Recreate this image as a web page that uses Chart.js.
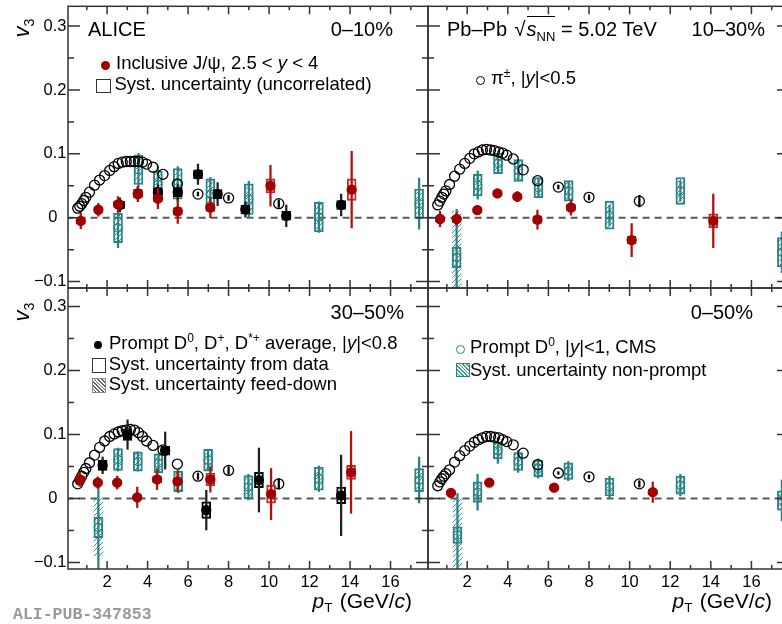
<!DOCTYPE html>
<html>
<head>
<meta charset="utf-8">
<script src="https://cdn.jsdelivr.net/npm/chart.js@4.4.0/dist/chart.umd.min.js"></script>
<style>
  html, body { margin: 0; padding: 0; background: #fff; overflow: hidden; width: 782px; height: 624px; }
  body { position: relative; font-family: "Liberation Sans", Arial, sans-serif; color: #000; }
  canvas { position: absolute; }
  .t { position: absolute; line-height: 1; white-space: nowrap; }
  .r { text-align: right; }
  .lg { font-size: 18.5px; }
  .big { font-size: 20px; }
  .t sup { font-size: 65%; vertical-align: 0; position: relative; top: -0.6em; }
  .t sub { font-size: 65%; vertical-align: 0; position: relative; top: 0.35em; }
  .sym { position: absolute; box-sizing: border-box; }
</style>
</head>
<body>
<canvas id="tl" width="436" height="296" style="left:0;top:0"></canvas>
<canvas id="tr" width="380" height="296" style="left:420px;top:0"></canvas>
<canvas id="bl" width="436" height="320" style="left:0;top:280px"></canvas>
<canvas id="br" width="380" height="320" style="left:420px;top:280px"></canvas>

<!-- axis titles -->
<div class="t" style="left:21.5px;top:27.5px;font-size:22px;transform:translate(-50%,-50%) rotate(-90deg)"><i>v</i><sub>3</sub></div>
<div class="t" style="left:21.5px;top:312px;font-size:22px;transform:translate(-50%,-50%) rotate(-90deg)"><i>v</i><sub>3</sub></div>
<div class="t r" style="left:212px;width:200px;top:589.5px;font-size:21px"><i>p</i><sub style="margin-right:7px">T</sub>(GeV/<i>c</i>)</div>
<div class="t r" style="left:572px;width:200px;top:589.5px;font-size:21px"><i>p</i><sub style="margin-right:7px">T</sub>(GeV/<i>c</i>)</div>
<div class="t" style="left:13px;top:605px;font:bold 16.5px 'Liberation Mono',monospace;color:#999">ALI-PUB-347853</div>

<!-- top left -->
<div class="t big" style="left:88px;top:19px">ALICE</div>
<div class="t r big" style="left:293px;width:100px;top:19px">0–10%</div>
<div class="sym" style="left:100.5px;top:61px;width:9px;height:9px;border-radius:50%;background:#a00000"></div>
<div class="t lg" style="left:116px;top:53.8px">Inclusive J/ψ, 2.5 &lt; <i>y</i> &lt; 4</div>
<div class="sym" style="left:96px;top:79px;width:15px;height:14px;border:1.5px solid #333"></div>
<div class="t lg" style="left:114.5px;top:74.8px">Syst. uncertainty (uncorrelated)</div>

<!-- top right -->
<div class="t big" style="left:447px;top:19px">Pb–Pb <span style="margin-left:2px">√</span><span style="border-top:1.3px solid #000;padding-top:1px;margin-left:1px"><i>s</i><sub>NN</sub></span> = 5.02 TeV</div>
<div class="t r big" style="left:665px;width:100px;top:19px">10–30%</div>
<div class="sym" style="left:475.5px;top:75.5px;width:9px;height:9px;border-radius:50%;border:1.3px solid #000"></div>
<div class="t lg" style="left:491px;top:69.3px">π<sup>±</sup>, |<i>y</i>|&lt;0.5</div>

<!-- bottom left -->
<div class="t r big" style="left:304px;width:100px;top:302.4px">30–50%</div>
<div class="sym" style="left:93.7px;top:341px;width:8px;height:8px;border-radius:50%;background:#000"></div>
<div class="t lg" style="left:109px;top:334.3px">Prompt D<sup>0</sup>, D<sup>+</sup>, D<sup>*+</sup> average, |<i>y</i>|&lt;0.8</div>
<div class="sym" style="left:91.7px;top:358px;width:14.5px;height:14.5px;border:1.5px solid #333"></div>
<div class="t lg" style="left:108.7px;top:355px">Syst. uncertainty from data</div>
<div class="sym" style="left:91.7px;top:378px;width:14.5px;height:14.5px;border:1px solid #888;background:repeating-linear-gradient(45deg,#fff 0 1.5px,#666 1.5px 2.6px)"></div>
<div class="t lg" style="left:108.7px;top:375px">Syst. uncertainty feed-down</div>

<!-- bottom right -->
<div class="t r big" style="left:653px;width:100px;top:302.4px">0–50%</div>
<div class="sym" style="left:455.5px;top:344.8px;width:9px;height:9px;border-radius:50%;border:1.3px solid #2b8282"></div>
<div class="t lg" style="left:470px;top:338.3px">Prompt D<sup>0</sup>, |<i>y</i>|&lt;1, CMS</div>
<div class="sym" style="left:456px;top:363.3px;width:13.5px;height:13.5px;border:1px solid #2b8282;background:repeating-linear-gradient(45deg,#fff 0 1.5px,#3a9a9a 1.5px 2.6px)"></div>
<div class="t lg" style="left:470px;top:361px">Syst. uncertainty non-prompt</div>

<script>
// axis ticks
const xTicks = [2, 4, 6, 8, 10, 12, 14, 16];
const yTicks = [-0.1, 0, 0.1, 0.2, 0.3];

// charged pion v3, |y|<0.5
const piPt = [0.55, 0.65, 0.75, 0.85, 0.95, 1.13, 1.38, 1.63, 1.88, 2.13, 2.35, 2.55, 2.75, 2.95, 3.15, 3.35, 3.55, 3.75, 3.95, 4.27, 4.76, 5.47, 6.49, 8.0, 10.48];
const pi0010 = [0.015, 0.018, 0.022, 0.027, 0.032, 0.040, 0.051, 0.059, 0.066, 0.074, 0.080, 0.085, 0.087, 0.088, 0.088, 0.088, 0.088, 0.087, 0.084, 0.079, 0.068, 0.053, 0.037, 0.031, 0.022];
const pi1030 = [0.020, 0.026, 0.032, 0.037, 0.042, 0.052, 0.065, 0.076, 0.085, 0.093, 0.100, 0.103, 0.106, 0.107, 0.106, 0.105, 0.103, 0.101, 0.098, 0.092, 0.075, 0.058, 0.048, 0.032, 0.026];
const pi3050 = [0.023, 0.029, 0.035, 0.041, 0.047, 0.056, 0.068, 0.080, 0.090, 0.097, 0.101, 0.104, 0.106, 0.107, 0.108, 0.107, 0.103, 0.097, 0.090, 0.083, 0.076, 0.054, 0.035, 0.044, 0.023];
const pi0050 = [0.020, 0.026, 0.031, 0.035, 0.039, 0.045, 0.057, 0.067, 0.075, 0.082, 0.088, 0.092, 0.095, 0.097, 0.097, 0.096, 0.095, 0.092, 0.089, 0.084, 0.071, 0.053, 0.040, 0.034, 0.023];
const piStat0010 = [0, 0, 0, 0, 0, 0, 0, 0, 0, 0, 0, 0, 0, 0, 0, 0, 0, 0, 0, 0, 0, 0, 0.003, 0.004, 0.006];
const piStat1030 = [0, 0, 0, 0, 0, 0, 0, 0, 0, 0, 0, 0, 0, 0, 0, 0, 0, 0, 0, 0, 0, 0, 0.003, 0.004, 0.009];
const piStat3050 = [0, 0, 0, 0, 0, 0, 0, 0, 0, 0, 0, 0, 0, 0, 0, 0, 0, 0, 0, 0, 0, 0, 0.005, 0.006, 0.008];
const piStat0050 = [0, 0, 0, 0, 0, 0, 0, 0, 0, 0, 0, 0, 0, 0, 0, 0, 0, 0, 0, 0, 0, 0, 0.002, 0.003, 0.005];

// inclusive J/psi, 2.5<y<4
const jPt0010 = [0.70, 1.57, 2.54, 3.52, 4.51, 5.49, 7.10, 10.07, 14.08];
const jV0010 = [-0.005, 0.0125, 0.021, 0.037, 0.030, 0.010, 0.016, 0.050, 0.044];
const jStat0010 = [0.012, 0.010, 0.012, 0.012, 0.016, 0.019, 0.016, 0.032, 0.060];
const jSyst0010 = [0.005, 0.004, 0.005, 0.006, 0.005, 0.006, 0.006, 0.011, 0.017];
const jPt1030 = [0.66, 1.48, 2.50, 3.49, 4.47, 5.46, 7.11, 10.10, 14.12];
const jV1030 = [-0.002, -0.002, 0.012, 0.038, 0.033, -0.003, 0.016, -0.035, -0.005];
const jStat1030 = [0.012, 0.010, 0.006, 0.007, 0.008, 0.015, 0.012, 0.026, 0.042];
const jSyst1030 = [0.004, 0.004, 0.004, 0.004, 0.004, 0.006, 0.005, 0.006, 0.011];
const jPt3050 = [0.66, 1.54, 2.50, 3.49, 4.47, 5.48, 7.10, 10.10, 14.05];
const jV3050 = [0.030, 0.025, 0.025, 0.002, 0.030, 0.027, 0.030, 0.007, 0.041];
const jStat3050 = [0.011, 0.009, 0.010, 0.016, 0.016, 0.016, 0.020, 0.040, 0.064];
const jSyst3050 = [0.005, 0.004, 0.004, 0.004, 0.005, 0.005, 0.010, 0.014, 0.011];
const jPt0050 = [1.20, 3.09, 6.28, 11.14];
const jV0050 = [0.009, 0.025, 0.017, 0.010];
const jStat0050 = [0.004, 0.004, 0.004, 0.016];
const jSyst0050 = [0.003, 0.003, 0.003, 0.004];

// ALICE prompt D average, |y|<0.8
const dPt0010 = [2.64, 3.52, 4.51, 5.49, 6.49, 7.46, 8.83, 10.85, 13.56];
const dV0010 = [0.020, 0.038, 0.040, 0.040, 0.068, 0.037, 0.013, 0.003, 0.020];
const dStat0010 = [0.011, 0.010, 0.012, 0.012, 0.016, 0.018, 0.012, 0.017, 0.017];
const dSyst0010 = [0.006, 0.006, 0.007, 0.007, 0.007, 0.007, 0.007, 0.007, 0.007];
const dPt3050 = [1.78, 3.01, 4.87, 6.90, 9.50, 13.56];
const dV3050 = [0.052, 0.100, 0.075, -0.018, 0.029, 0.005];
const dStat3050 = [0.013, 0.023, 0.029, 0.031, 0.050, 0.063];
const dSyst3050 = [0.008, 0.009, 0.007, 0.013, 0.012, 0.013];

// CMS prompt D0, |y|<1
const cPt0010 = [2.54, 3.55, 4.51, 5.49, 7.10, 9.00, 12.46, 17.41];
const cV0010 = [-0.016, 0.075, 0.052, 0.053, 0.037, 0.029, 0.001, 0.022];
const cStat0010 = [0.031, 0.026, 0.028, 0.027, 0.026, 0.028, 0.024, 0.040];
const cSyst0010 = [0.023, 0.023, 0.021, 0.024, 0.024, 0.024, 0.023, 0.023];
const cPt1030 = [1.48, 2.52, 3.52, 4.52, 5.51, 7.00, 9.01, 12.50, 17.50];
const cV1030 = [-0.062, 0.051, 0.085, 0.074, 0.047, 0.042, 0.004, 0.042, -0.054];
const cStat1030 = [0.075, 0.022, 0.015, 0.015, 0.015, 0.015, 0.016, 0.016, 0.032];
const cSyst1030 = [0.016, 0.017, 0.016, 0.017, 0.016, 0.016, 0.022, 0.021, 0.023];
const cPt3050 = [1.57, 2.54, 3.52, 4.54, 5.51, 6.99, 8.98, 12.46, 17.41];
const cV3050 = [-0.045, 0.061, 0.058, 0.055, 0.027, 0.060, 0.018, 0.031, 0.029];
const cStat3050 = [0.075, 0.018, 0.015, 0.015, 0.018, 0.015, 0.020, 0.020, 0.036];
const cSyst3050 = [0.016, 0.017, 0.015, 0.015, 0.016, 0.017, 0.018, 0.018, 0.018];
const cPt0050 = [1.52, 2.51, 3.51, 4.51, 5.50, 6.98, 9.01, 12.50, 17.50];
const cV0050 = [-0.057, 0.010, 0.075, 0.058, 0.047, 0.043, 0.018, 0.021, -0.003];
const cStat0050 = [0.065, 0.028, 0.020, 0.017, 0.015, 0.015, 0.017, 0.017, 0.032];
const cSyst0050 = [0.013, 0.016, 0.013, 0.014, 0.013, 0.013, 0.014, 0.014, 0.015];
// CMS non-prompt syst. band (low edge, high edge)
const npPt1030 = [1.48], npLo1030 = [-0.2], npHi1030 = [0.010];
const npPt3050 = [1.57], npLo3050 = [-0.09], npHi3050 = [0.0];
const npPt0050 = [1.52], npLo0050 = [-0.2], npHi0050 = [0.0];

const TEAL = '#2b8282', RED = '#a00000', REDBOX = '#c82828';
const X_MIN = 0.07, X_MAX = 17.85;

function hatch(color) {
  const c = document.createElement('canvas');
  c.width = 5; c.height = 5;
  const g = c.getContext('2d');
  g.strokeStyle = color; g.lineWidth = 1;
  g.beginPath();
  g.moveTo(0, 5); g.lineTo(5, 0);
  g.moveTo(-1, 1); g.lineTo(1, -1);
  g.moveTo(4, 6); g.lineTo(6, 4);
  g.stroke();
  return g.createPattern(c, 'repeat');
}
const tealHatch = hatch('#3a9a9a');

function boxes(pt, v, s, color, fill, order) {
  return {
    type: 'bar', order, grouped: false, barThickness: 9, borderSkipped: false,
    borderWidth: 1.3, borderColor: color, backgroundColor: fill, clip: 0,
    data: pt.map((p, i) => ({ x: p, y: [v[i] - s[i], v[i] + s[i]] }))
  };
}
function band(pt, lo, hi, fill, order) {
  return {
    type: 'bar', order, grouped: false, barThickness: 9, borderWidth: 0,
    backgroundColor: fill, clip: 0,
    data: pt.map((p, i) => ({ x: p, y: [lo[i], hi[i]] }))
  };
}
function errs(pt, v, e, color, order) {
  return {
    type: 'bar', order, grouped: false, barThickness: 1.6, borderWidth: 0,
    backgroundColor: color, clip: 0,
    data: pt.map((p, i) => ({ x: p, y: [v[i] - e[i], v[i] + e[i]] })).filter((d) => d.y[1] > d.y[0])
  };
}
function marks(pt, v, r, stroke, fill, order) {
  return {
    type: 'scatter', order, clip: 0, showLine: false,
    pointRadius: r, pointHoverRadius: r, pointBorderWidth: 1.3,
    pointBorderColor: stroke, pointBackgroundColor: fill,
    data: pt.map((p, i) => ({ x: p, y: v[i] }))
  };
}
function zeroLine() {
  return {
    type: 'line', order: 30, clip: 0, borderColor: '#5a5a5a', borderWidth: 2,
    borderDash: [7, 5], pointRadius: 0, data: [{ x: 0, y: 0 }, { x: 18, y: 0 }]
  };
}

// ROOT-like frame with inward ticks
const rootFrame = {
  id: 'rootFrame',
  afterDraw(chart) {
    const { ctx, chartArea: a, scales: { x, y } } = chart;
    ctx.save();
    ctx.strokeStyle = '#333';
    ctx.lineWidth = 1.5;
    ctx.beginPath();
    for (let t = 1; t <= 17; t++) {
      const px = x.getPixelForValue(t);
      const len = t % 2 ? 4 : 8;
      ctx.moveTo(px, a.bottom); ctx.lineTo(px, a.bottom - len);
      ctx.moveTo(px, a.top); ctx.lineTo(px, a.top + len);
    }
    for (let k = -2; k <= 6; k++) {
      const py = y.getPixelForValue(k * 0.05);
      const len = k % 2 ? 6 : 12;
      ctx.moveTo(a.left, py); ctx.lineTo(a.left + len, py);
      ctx.moveTo(a.right, py); ctx.lineTo(a.right - len, py);
    }
    ctx.stroke();
    ctx.strokeRect(a.left, a.top, a.right - a.left, a.bottom - a.top);
    ctx.restore();
  }
};

function panel(id, geo, datasets) {
  new Chart(document.getElementById(id), {
    type: 'scatter',
    data: { datasets: [zeroLine()].concat(datasets) },
    options: {
      responsive: false,
      animation: false,
      events: [],
      layout: { padding: { top: geo.padTop, right: geo.padRight, left: 0, bottom: 0 } },
      plugins: { legend: { display: false }, tooltip: { enabled: false } },
      scales: {
        x: {
          type: 'linear', min: X_MIN, max: X_MAX, offset: false,
          grid: { display: false, drawTicks: false }, border: { display: false },
          afterBuildTicks: (s) => { s.ticks = xTicks.map((v) => ({ value: v })); },
          afterFit: (s) => { s.height = geo.xAxisH; s.paddingLeft = 0; s.paddingRight = 0; },
          ticks: {
            display: geo.showX, padding: 4, color: '#000', maxRotation: 0, autoSkip: false,
            font: { family: 'Liberation Sans', size: 16.5 }
          }
        },
        y: {
          type: 'linear', min: geo.yMin, max: geo.yMax,
          grid: { display: false, drawTicks: false }, border: { display: false },
          afterBuildTicks: (s) => { s.ticks = yTicks.map((v) => ({ value: v })); },
          afterFit: (s) => { s.width = geo.yAxisW; s.paddingTop = 0; s.paddingBottom = 0; },
          ticks: {
            display: geo.showY, padding: 1.5, color: '#000', autoSkip: false,
            font: { family: 'Liberation Sans', size: 16.5 },
            callback: (v) => (v === 0 ? '0  ' : (v < 0 ? '\u2212' : '') + Math.abs(v).toFixed(1))
          }
        }
      }
    },
    plugins: [rootFrame]
  });
}

const topGeo = { yMin: -0.11, yMax: 0.331, padTop: 5, xAxisH: 8, showX: false };
const botGeo = { yMin: -0.11, yMax: 0.329, padTop: 8, xAxisH: 31, showX: true };
const leftGeo = { yAxisW: 68, padRight: 8, showY: true };
const rightGeo = { yAxisW: 8, padRight: 11, showY: false };

panel('tl', Object.assign({}, topGeo, leftGeo), [
  boxes(cPt0010, cV0010, cSyst0010, TEAL, tealHatch, 12),
  errs(cPt0010, cV0010, cStat0010, TEAL, 11),
  marks(cPt0010, cV0010, 4, TEAL, 'rgba(0,0,0,0)', 10),
  errs(piPt, pi0010, piStat0010, '#000', 9),
  marks(piPt, pi0010, 5, '#000', 'rgba(0,0,0,0)', 8),
  boxes(dPt0010, dV0010, dSyst0010, '#000', 'rgba(0,0,0,0)', 7),
  errs(dPt0010, dV0010, dStat0010, '#222', 6),
  marks(dPt0010, dV0010, 4.5, '#000', '#000', 5),
  boxes(jPt0010, jV0010, jSyst0010, REDBOX, 'rgba(0,0,0,0)', 4),
  errs(jPt0010, jV0010, jStat0010, '#b01010', 3),
  marks(jPt0010, jV0010, 4.5, RED, RED, 2)
]);

panel('tr', Object.assign({}, topGeo, rightGeo), [
  band(npPt1030, npLo1030, npHi1030, tealHatch, 13),
  boxes(cPt1030, cV1030, cSyst1030, TEAL, tealHatch, 12),
  errs(cPt1030, cV1030, cStat1030, TEAL, 11),
  marks(cPt1030, cV1030, 4, TEAL, 'rgba(0,0,0,0)', 10),
  errs(piPt, pi1030, piStat1030, '#000', 9),
  marks(piPt, pi1030, 5, '#000', 'rgba(0,0,0,0)', 8),
  boxes(jPt1030, jV1030, jSyst1030, REDBOX, 'rgba(0,0,0,0)', 4),
  errs(jPt1030, jV1030, jStat1030, '#b01010', 3),
  marks(jPt1030, jV1030, 4.5, RED, RED, 2)
]);

panel('bl', Object.assign({}, botGeo, leftGeo), [
  band(npPt3050, npLo3050, npHi3050, tealHatch, 13),
  boxes(cPt3050, cV3050, cSyst3050, TEAL, tealHatch, 12),
  errs(cPt3050, cV3050, cStat3050, TEAL, 11),
  marks(cPt3050, cV3050, 4, TEAL, 'rgba(0,0,0,0)', 10),
  errs(piPt, pi3050, piStat3050, '#000', 9),
  marks(piPt, pi3050, 5, '#000', 'rgba(0,0,0,0)', 8),
  boxes(dPt3050, dV3050, dSyst3050, '#000', 'rgba(0,0,0,0)', 7),
  errs(dPt3050, dV3050, dStat3050, '#222', 6),
  marks(dPt3050, dV3050, 4.5, '#000', '#000', 5),
  boxes(jPt3050, jV3050, jSyst3050, REDBOX, 'rgba(0,0,0,0)', 4),
  errs(jPt3050, jV3050, jStat3050, '#b01010', 3),
  marks(jPt3050, jV3050, 4.5, RED, RED, 2)
]);

panel('br', Object.assign({}, botGeo, rightGeo), [
  band(npPt0050, npLo0050, npHi0050, tealHatch, 13),
  boxes(cPt0050, cV0050, cSyst0050, TEAL, tealHatch, 12),
  errs(cPt0050, cV0050, cStat0050, TEAL, 11),
  marks(cPt0050, cV0050, 4, TEAL, 'rgba(0,0,0,0)', 10),
  errs(piPt, pi0050, piStat0050, '#000', 9),
  marks(piPt, pi0050, 5, '#000', 'rgba(0,0,0,0)', 8),
  boxes(jPt0050, jV0050, jSyst0050, REDBOX, 'rgba(0,0,0,0)', 4),
  errs(jPt0050, jV0050, jStat0050, '#b01010', 3),
  marks(jPt0050, jV0050, 4.5, RED, RED, 2)
]);
</script>
</body>
</html>
